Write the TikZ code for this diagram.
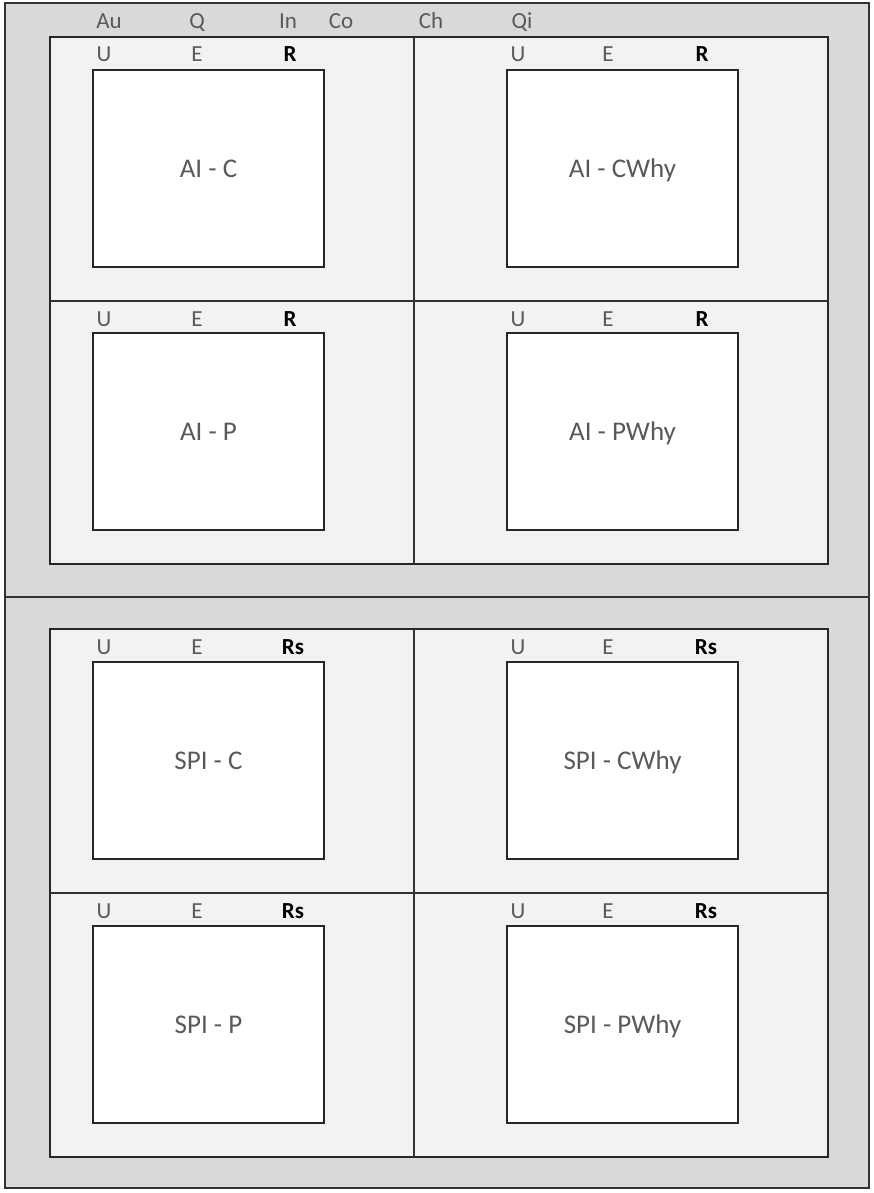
\documentclass[tikz,border=0pt]{standalone}
\usepackage{fontspec}
\setmainfont{Carlito}
\usetikzlibrary{positioning}
\definecolor{outergray}{HTML}{D9D9D9}
\definecolor{panelgray}{HTML}{F2F2F2}
\definecolor{textgray}{HTML}{595959}

\begin{document}
\begin{tikzpicture}[
    x=1pt, y=-1pt,
    frame/.style={draw=black!80, line width=1.2pt},
    panel/.style={draw=black!85, fill=panelgray, line width=1.2pt},
    card/.style={
        draw=black!85,
        fill=white,
        line width=1.2pt,
        minimum width=231pt,
        minimum height=197pt,
        inner sep=0pt,
        text height=17.4pt,
        text depth=0pt,
        font=\fontsize{27}{30}\selectfont,
        text=textgray
    },
    tag/.style={font=\fontsize{23}{26}\selectfont, text=textgray, inner sep=0pt, anchor=base},
    key/.style={font=\fontsize{23}{26}\selectfont\bfseries, text=black, inner sep=0pt, anchor=base}
]
\useasboundingbox (0,0) rectangle (873,1193);

% outer frame and its two halves
\draw[frame, fill=outergray] (5,3) rectangle (869,1188);
\draw[frame] (5,597) -- (869,597);

% panels
\draw[panel] (50,37) rectangle (828,564);
\draw[frame] (414,37) -- (414,564);
\draw[frame] (50,301) -- (828,301);
\draw[panel] (50,629) rectangle (828,1157);
\draw[frame] (414,629) -- (414,1157);
\draw[frame] (50,893) -- (828,893);

% header labels
\node[tag] (au) at (109,29) {Au};
\node[tag] (q)  at (197,29) {Q};
\node[tag] (in) at (288,29) {In};
\node[tag] (co) at (341,29) {Co};
\node[tag] (ch) at (431,29) {Ch};
\node[tag] (qi) at (522,29) {Qi};

% AI cards
\node[card] (aic)    at (208.5,168.5) {AI - C};
\node[card] (aicwhy) at (622.5,168.5) {AI - CWhy};
\node[card] (aip)    at (208.5,431.5) {AI - P};
\node[card] (aipwhy) at (622.5,431.5) {AI - PWhy};

% SPI cards
\node[card] (spic)    at (208.5,760.5) {SPI - C};
\node[card] (spicwhy) at (622.5,760.5) {SPI - CWhy};
\node[card] (spip)    at (208.5,1024.5) {SPI - P};
\node[card] (spipwhy) at (622.5,1024.5) {SPI - PWhy};

% U / E / R labels above the cards
\node[tag] (aicu) at (104,62) {U};
\node[tag] (aice) at (197,62) {E};
\node[key] (aicr) at (290,62) {R};
\node[tag] (aicwhyu) at (518,62) {U};
\node[tag] (aicwhye) at (608,62) {E};
\node[key] (aicwhyr) at (702,62) {R};
\node[tag] (aipu) at (104,326) {U};
\node[tag] (aipe) at (197,326) {E};
\node[key] (aipr) at (290,326) {R};
\node[tag] (aipwhyu) at (518,326) {U};
\node[tag] (aipwhye) at (608,326) {E};
\node[key] (aipwhyr) at (702,326) {R};

\node[tag] (spicu) at (104,654) {U};
\node[tag] (spice) at (197,654) {E};
\node[key] (spicr) at (293,654) {Rs};
\node[tag] (spicwhyu) at (518,654) {U};
\node[tag] (spicwhye) at (608,654) {E};
\node[key] (spicwhyr) at (706,654) {Rs};
\node[tag] (spipu) at (104,918) {U};
\node[tag] (spipe) at (197,918) {E};
\node[key] (spipr) at (293,918) {Rs};
\node[tag] (spipwhyu) at (518,918) {U};
\node[tag] (spipwhye) at (608,918) {E};
\node[key] (spipwhyr) at (706,918) {Rs};

\end{tikzpicture}
\end{document}
